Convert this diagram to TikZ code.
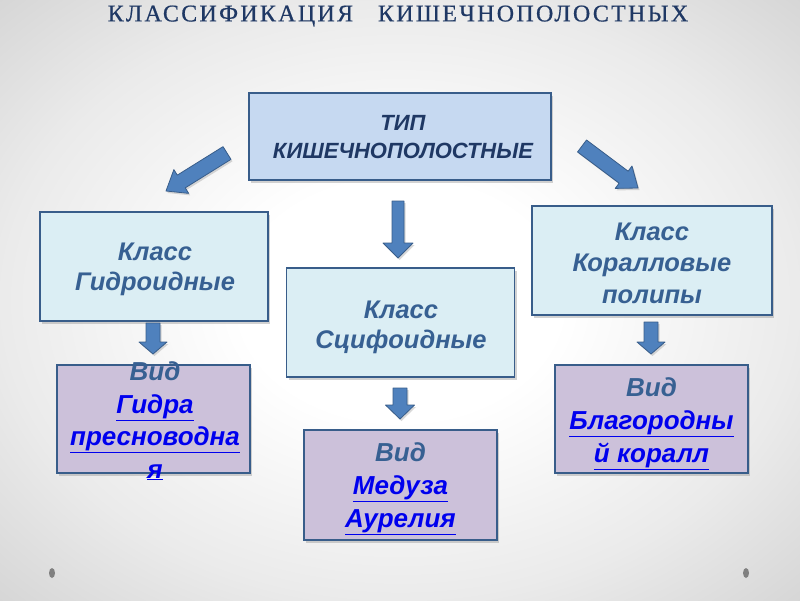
\documentclass[tikz,border=0pt]{standalone}
\usepackage{fontspec}
\setmainfont{Liberation Serif}
\setsansfont{Liberation Sans}
\usetikzlibrary{calc,shadows}
\definecolor{titlecol}{HTML}{1F3864}
\definecolor{boxline}{HTML}{385D8A}
\definecolor{topfill}{HTML}{C6D9F1}
\definecolor{classfill}{HTML}{DBEEF4}
\definecolor{vidfill}{HTML}{CCC1DA}
\definecolor{classtext}{HTML}{376092}
\definecolor{toptext}{HTML}{1F3864}
\definecolor{arrfill}{HTML}{4F81BD}
\definecolor{linkcol}{HTML}{0000EE}
\pgfdeclareradialshading{bgshade}{\pgfpoint{0bp}{0bp}}{%
  color(0bp)=(white); color(10bp)=(white); color(25bp)=(black!8);
  color(35.4bp)=(black!16); color(50bp)=(black!16)}
\newcommand\blockarr[5]{%
  \draw[barrow] let \p1=(#1), \p2=(#2), \n1={atan2(\y2-\y1,\x2-\x1)},
      \n2={veclen(\x2-\x1,\y2-\y1)} in
    (\p1) ++(\n1+90:#3pt) -- ++(\n1:{(\n2-#5)*1pt}) -- ++(\n1+90:{(#4-#3)*1pt})
    -- (\p2) -- ($(\p2)+(\n1+180:#5pt)+(\n1-90:#4pt)$) -- ++(\n1+90:{(#4-#3)*1pt})
    -- ++(\n1+180:{(\n2-#5)*1pt}) -- cycle;}
\newcommand\lnk[1]{\textcolor{linkcol}{\underline{#1}}}
\tikzset{
  box/.style={draw=boxline, line width=1.4pt, inner sep=0pt,
    drop shadow={shadow xshift=2pt, shadow yshift=-2.5pt, opacity=0.35}},
  topbox/.style={box, fill=topfill, minimum width=302pt, minimum height=87pt},
  classbox/.style={box, fill=classfill, minimum width=228pt, minimum height=109pt},
  vidbox/.style={box, fill=vidfill, minimum width=193pt, minimum height=108pt},
  boxtext/.style={align=center, inner sep=0pt, font=\sffamily\bfseries\itshape\fontsize{25.5}{30}\selectfont, text=classtext},
  vidtext/.style={boxtext, font=\sffamily\bfseries\itshape\fontsize{26}{33}\selectfont},
  toptextst/.style={align=center, inner sep=0pt, font=\sffamily\bfseries\itshape\fontsize{22}{28}\selectfont, text=toptext},
  barrow/.style={fill=arrfill, draw=boxline, line width=0.8pt, line join=round,
    drop shadow={shadow xshift=1.5pt, shadow yshift=-2pt, opacity=0.3}},
  dot/.style={fill=black!50, draw=none}
}
\begin{document}
\begin{tikzpicture}[x=1pt,y=-1pt]
\useasboundingbox (0,0) rectangle (800,600);
\shade[shading=bgshade] (0,0) rectangle (800,600);
\fill[dot] (52,573) ellipse [x radius=3, y radius=5];
\fill[dot] (746,573) ellipse [x radius=3, y radius=5];

\node[font=\rmfamily\fontsize{24}{28}\selectfont\addfontfeature{LetterSpace=9.5,FakeBold=0.6}, text=titlecol, inner sep=0pt] (title) at (398,16) {КЛАССИФИКАЦИЯ \ \ КИШЕЧНОПОЛОСТНЫХ};

\node[topbox] (top) at (400,136.5) {};
\node[toptextst] (topt) at (403,137.5) {ТИП\\КИШЕЧНОПОЛОСТНЫЕ};

\node[classbox] (c1) at (154,266.5) {};
\node[boxtext] (c1t) at (155,269) {Класс\\Гидроидные};
\node[classbox] (c2) at (400.5,322.5) {};
\node[boxtext] (c2t) at (401,327) {Класс\\Сцифоидные};
\node[classbox, minimum width=240pt] (c3) at (652,260.5) {};
\node[boxtext, font=\sffamily\bfseries\itshape\fontsize{25.5}{31.5}\selectfont] (c3t) at (652,263) {Класс\\Коралловые\\полипы};

\node[vidbox] (v1) at (153.5,419) {};
\node[vidtext, font=\sffamily\bfseries\itshape\fontsize{26}{32.5}\selectfont] (v1t) at (155,421) {Вид\\\lnk{Гидра}\\\lnk{пресноводна}\\\lnk{я}};
\node[vidbox, minimum height=110pt] (v2) at (400.5,485) {};
\node[vidtext] (v2t) at (400.5,489) {Вид\\\lnk{Медуза}\\\lnk{Аурелия}};
\node[vidbox] (v3) at (651.5,419) {};
\node[vidtext] (v3t) at (651.5,424) {Вид\\\lnk{Благородны}\\\lnk{й коралл}};

\coordinate (a1s) at (227,153); \coordinate (a1e) at (166,191);
\coordinate (a2s) at (582,146); \coordinate (a2e) at (638,188);
\coordinate (a3s) at (398,201); \coordinate (a3e) at (398,258);
\coordinate (a4s) at (153,323); \coordinate (a4e) at (153,354);
\coordinate (a5s) at (400,388); \coordinate (a5e) at (400,419);
\coordinate (a6s) at (651,322); \coordinate (a6e) at (651,354);
\blockarr{a1s}{a1e}{7.5}{14}{18}
\blockarr{a2s}{a2e}{7.5}{14}{18}
\blockarr{a3s}{a3e}{6}{15}{15}
\blockarr{a4s}{a4e}{7}{14}{12}
\blockarr{a5s}{a5e}{7}{14.5}{14}
\blockarr{a6s}{a6e}{7}{14}{12}
\end{tikzpicture}
\end{document}
